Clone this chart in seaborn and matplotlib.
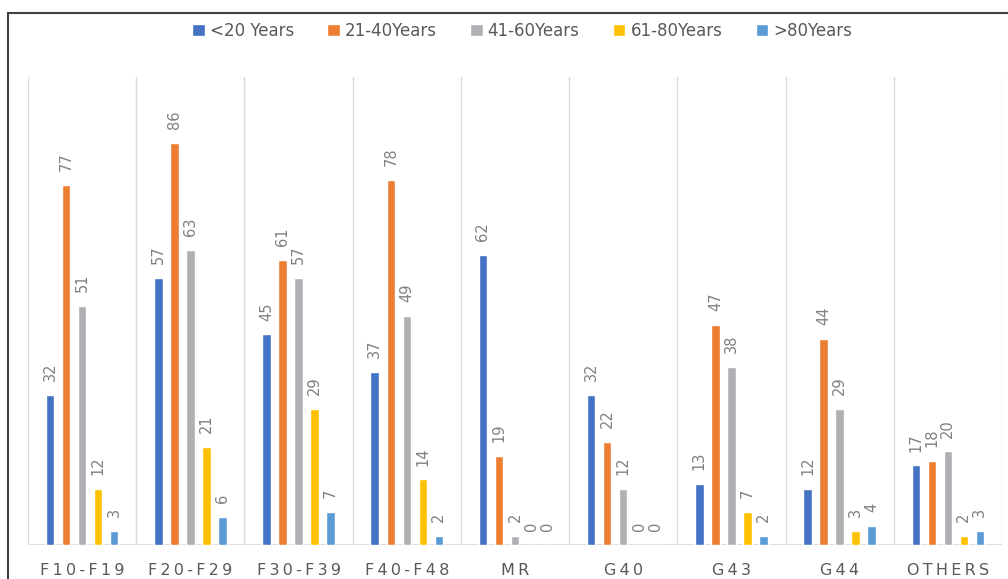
import pandas as pd
import matplotlib.pyplot as plt
import seaborn as sns
from matplotlib.patches import Rectangle

# ====== Data ======
categories = ["F10-F19", "F20-F29", "F30-F39", "F40-F48", "MR", "G40", "G43", "G44", "OTHERS"]
age_groups = ["<20 Years", "21-40Years", "41-60Years", "61-80Years", ">80Years"]
under_20 = [32, 57, 45, 37, 62, 32, 13, 12, 17]
age_21_40 = [77, 86, 61, 78, 19, 22, 47, 44, 18]
age_41_60 = [51, 63, 57, 49, 2, 12, 38, 29, 20]
age_61_80 = [12, 21, 29, 14, 0, 0, 7, 3, 2]
over_80 = [3, 6, 7, 2, 0, 0, 2, 4, 3]

colors = ["#4472C4", "#ED7D31", "#AFB0B3", "#FFC000", "#5B9BD5"]

rows = []
for grp, vals in zip(age_groups, [under_20, age_21_40, age_41_60, age_61_80, over_80]):
    for cat, v in zip(categories, vals):
        rows.append({"category": cat, "group": grp, "count": v})
df = pd.DataFrame(rows)

sns.set_style("white")
plt.rcParams["font.family"] = ["DejaVu Sans"]
text_color = "#595959"

fig = plt.figure(figsize=(10.08, 5.79), dpi=100)
ax = fig.add_axes([0.0278, 0.0587, 0.9662, 0.8083])

sns.barplot(data=df, x="category", y="count", hue="group", hue_order=age_groups,
            order=categories, palette=colors, width=0.74, gap=0.47,
            saturation=1, ax=ax, legend=True)

for cont in ax.containers:
    ax.bar_label(cont, rotation=90, padding=10, color="#808080", fontsize=10.5)

# category separators
for i in range(len(categories) + 1):
    ax.axvline(i - 0.5, color="#d9d9d9", lw=1, zorder=0)
ax.axhline(0, color="#d9d9d9", lw=1.2, zorder=0)

ax.set_xlim(-0.5, len(categories) - 0.5)
ax.set_ylim(0, 100)
ax.set_yticks([])
ax.set_xlabel("")
ax.set_ylabel("")
for s in ax.spines.values():
    s.set_visible(False)

ax.set_xticks(range(len(categories)))
ax.set_xticklabels(["\u2009".join(c) for c in categories], fontsize=11.5, color=text_color)
ax.tick_params(axis="x", length=0, pad=13)

ax.legend(loc="center", ncol=5, frameon=False, fontsize=12,
          handlelength=0.75, handleheight=0.75, handletextpad=0.3,
          columnspacing=2.0, labelcolor=text_color)
ax.get_legend().set_bbox_to_anchor((0.518, 1 - 31 / 579), transform=fig.transFigure)

# outer chart border (cropped at right and bottom)
fig.patches.append(Rectangle((8 / 1008, -0.05), 1.1, 1 - 13 / 579 + 0.05,
                             transform=fig.transFigure, fill=False,
                             edgecolor="#404040", lw=1.5))

fig.savefig("out.png", dpi=100)
